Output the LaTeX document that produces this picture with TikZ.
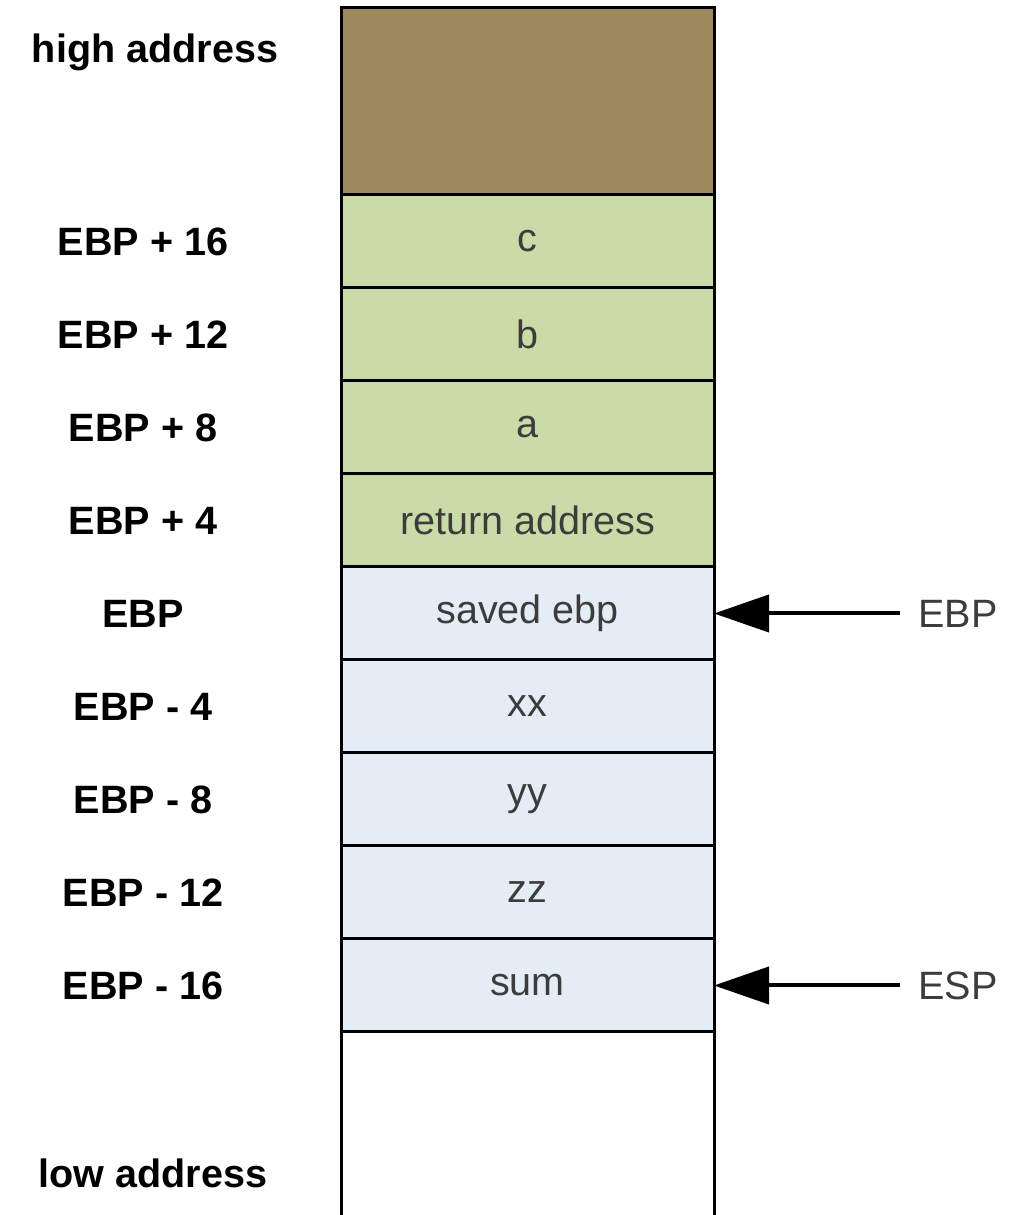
\documentclass[tikz,border=0pt]{standalone}
\usepackage{fontspec}
\setmainfont{Liberation Sans}
\usetikzlibrary{positioning,arrows.meta}

\definecolor{brownc}{RGB}{156,138,94}
\definecolor{greenc}{RGB}{202,219,168}
\definecolor{bluec}{RGB}{228,236,246}
\definecolor{textc}{RGB}{60,60,60}

\begin{document}
\begin{tikzpicture}[node distance=0cm,
  cell/.style={draw, line width=0.06cm, minimum width=7.46cm, minimum height=1.86cm, inner sep=0pt, outer sep=0pt, text=textc, font=\fontsize{22.5}{27}\selectfont},
  addr/.style={inner sep=0pt, font=\bfseries\fontsize{22.5}{27}\selectfont},
  reg/.style={inner sep=0pt, inner xsep=0.36cm, anchor=west, text=textc, font=\fontsize{22.5}{27}\selectfont},
  ptr/.style={line width=0.08cm, -{Triangle[length=1.1cm, width=0.74cm]}}]
  \useasboundingbox (0,0) rectangle (20.42,24.3);
  \coordinate (lcol) at (2.86,0);
  \coordinate (rcol) at (18.0,0);

  % Stack
  \node[cell, fill=brownc, minimum height=3.74cm, anchor=north west] (top) at (6.82,24.14) {};
  \node[cell, fill=greenc, below=of top] (c) {c};
  \node[cell, fill=greenc, below=of c] (b) {b};
  \node[cell, fill=greenc, below=of b] (a) {a};
  \node[cell, fill=greenc, below=of a] (ret) {return address};
  \node[cell, fill=bluec, below=of ret] (saved) {saved ebp};
  \node[cell, fill=bluec, below=of saved] (xx) {xx};
  \node[cell, fill=bluec, below=of xx] (yy) {yy};
  \node[cell, fill=bluec, below=of yy] (zz) {zz};
  \node[cell, fill=bluec, below=of zz] (sum) {sum};
  \coordinate (bl) at (sum.south west |- 0,0);
  \coordinate (br) at (sum.south east |- 0,0);
  \draw[line width=0.06cm] (sum.south west) -- (bl);
  \draw[line width=0.06cm] (sum.south east) -- (br);

  % Addresses
  \node[addr] (high) at (3.1,23.26) {high address};
  \node[addr] (low) at (3.06,0.84) {low address};
  \node[addr] at (c.west -| lcol) {EBP + 16};
  \node[addr] at (b.west -| lcol) {EBP + 12};
  \node[addr] at (a.west -| lcol) {EBP + 8};
  \node[addr] at (ret.west -| lcol) {EBP + 4};
  \node[addr] at (saved.west -| lcol) {EBP};
  \node[addr] at (xx.west -| lcol) {EBP - 4};
  \node[addr] at (yy.west -| lcol) {EBP - 8};
  \node[addr] at (zz.west -| lcol) {EBP - 12};
  \node[addr] at (sum.west -| lcol) {EBP - 16};

  % Registers
  \node[reg] (ebp) at (saved.east -| rcol) {EBP};
  \node[reg] (esp) at (sum.east -| rcol) {ESP};
  \draw[ptr] (ebp.west) -- (saved.east);
  \draw[ptr] (esp.west) -- (sum.east);
\end{tikzpicture}
\end{document}
